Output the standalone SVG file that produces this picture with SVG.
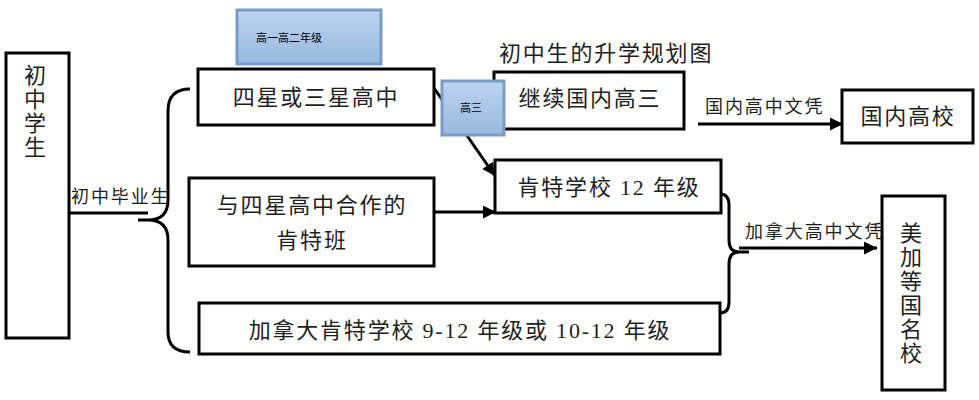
<svg xmlns="http://www.w3.org/2000/svg" width="979" height="400" viewBox="0 0 979 400">
<defs>
<linearGradient id="blueg" x1="0" y1="0" x2="0" y2="1">
<stop offset="0" stop-color="#bcd5ef"/>
<stop offset="1" stop-color="#98b8de"/>
</linearGradient>
<marker id="arr" markerUnits="userSpaceOnUse" markerWidth="14" markerHeight="14" refX="13" refY="6.5" orient="auto">
<path d="M0,0 L13,6.5 L0,13 Z" fill="#000"/>
</marker>
<style>
.box{fill:#fff;stroke:#000;stroke-width:3}
.blue{fill:url(#blueg);stroke:#7a9bc4;stroke-width:3}
.t{font-family:"Liberation Serif","Noto Sans CJK SC",serif;fill:#1e1e1e;font-size:22px;letter-spacing:1.8px}
.s{font-family:"Liberation Serif","Noto Sans CJK SC",serif;fill:#1e1e1e;font-size:18px;letter-spacing:1.9px}
.m{font-family:"Noto Sans CJK SC",sans-serif;fill:#000;font-size:11px}
.c{text-anchor:middle}
.ln{fill:none;stroke:#000;stroke-width:3}
</style>
</defs>
<text class="t" x="499" y="61">初中生的升学规划图</text>
<g id="connectors">
<line class="ln" x1="69" y1="213" x2="148" y2="213"/>
<path class="ln" d="M190,89 Q168,89 168,111 L168,200 Q168,220 148,220 L138,220 M148,220 Q168,220 168,240 L168,332 Q168,352 190,352"/>
<line class="ln" x1="434" y1="88" x2="495" y2="176" marker-end="url(#arr)"/>
<line class="ln" x1="434" y1="212" x2="496" y2="212" marker-end="url(#arr)"/>
<line class="ln" x1="698" y1="124" x2="843" y2="124" marker-end="url(#arr)"/>
<path class="ln" d="M720,194 Q729,194 729,205 L729,240 Q729,252 739,252 L749,252 M739,252 Q729,252 729,264 L729,302 Q729,313 720,313"/>
<line class="ln" x1="739" y1="248" x2="877" y2="248" marker-end="url(#arr)"/>
</g>
<g id="n-student">
<rect class="box" x="6" y="53" width="63" height="285"/>
<text class="t c" x="36" y="83">初</text>
<text class="t c" x="36" y="107">中</text>
<text class="t c" x="36" y="131">学</text>
<text class="t c" x="36" y="155">生</text>
</g>
<text id="l-grad" class="s" x="71" y="203">初中毕业生</text>
<g id="n-g12">
<rect class="blue" x="237" y="10" width="144" height="54"/>
<text class="m" x="256" y="42">高一高二年级</text>
</g>
<g id="n-star">
<rect class="box" x="198" y="69" width="236" height="56"/>
<text class="t c" x="316" y="105">四星或三星高中</text>
</g>
<g id="n-coop">
<rect class="box" x="189" y="178" width="245" height="88"/>
<text class="t c" x="312" y="213">与四星高中合作的</text>
<text class="t c" x="312" y="248">肯特班</text>
</g>
<g id="n-canada">
<rect class="box" x="199" y="303" width="521" height="51"/>
<text class="t c" x="460" y="338">加拿大肯特学校 9-12 年级或 10-12 年级</text>
</g>
<g id="n-cont">
<rect class="box" x="494" y="72" width="190" height="57"/>
<text class="t c" x="590" y="106">继续国内高三</text>
</g>
<g id="n-g3">
<rect class="blue" x="442" y="81" width="62" height="54"/>
<text class="m" x="460" y="112">高三</text>
</g>
<g id="n-kent12">
<rect class="box" x="495" y="160" width="226" height="53"/>
<text class="t c" x="609" y="195">肯特学校 12 年级</text>
</g>
<text id="l-dom" class="s" x="705" y="113">国内高中文凭</text>
<g id="n-domuni">
<rect class="box" x="842" y="90" width="131" height="53"/>
<text class="t c" x="908" y="124">国内高校</text>
</g>
<text id="l-can" class="s" x="745" y="238">加拿大高中文凭</text>
<g id="n-nauni">
<rect class="box" x="882" y="196" width="63" height="194"/>
<text class="t c" x="912" y="241">美</text>
<text class="t c" x="912" y="265">加</text>
<text class="t c" x="912" y="289">等</text>
<text class="t c" x="912" y="313">国</text>
<text class="t c" x="912" y="337">名</text>
<text class="t c" x="912" y="361">校</text>
</g>
</svg>
